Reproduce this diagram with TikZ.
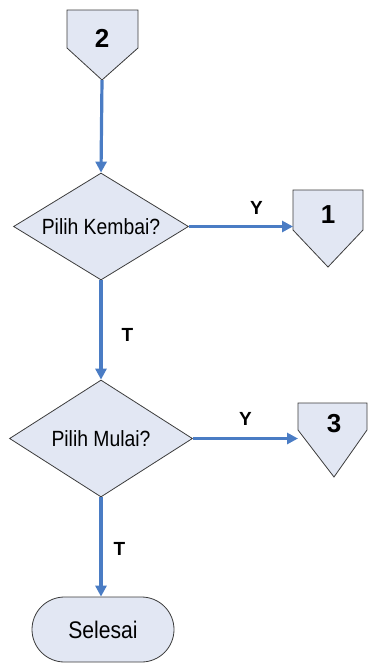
\documentclass[tikz,border=0pt]{standalone}
\usepackage{fontspec}
\setmainfont{Liberation Sans}
\newfontfamily\narrowsans[FakeStretch=0.88]{Liberation Sans}
\usetikzlibrary{positioning}
\usetikzlibrary{shapes.geometric, shapes.misc, arrows.meta}

\definecolor{boxfill}{RGB}{226,231,243}
\definecolor{boxline}{RGB}{60,60,60}
\definecolor{flowblue}{RGB}{74,124,196}

\tikzset{
	decision/.style = {diamond, aspect = 1.65, draw = boxline, fill = boxfill, line width = 0.8pt, inner sep = 0pt, font = \narrowsans\fontsize{22}{24}\selectfont},
	terminal/.style = {rounded rectangle, draw = boxline, fill = boxfill, line width = 0.8pt, inner sep = 0pt, font = \narrowsans\fontsize{24}{26}\selectfont},
	offpage/.style = {draw = boxline, fill = boxfill, line width = 0.8pt, line join = miter},
	digit/.style = {inner sep = 0pt, font = \bfseries\fontsize{26}{28}\selectfont},
	answer/.style = {inner sep = 0pt, text = black, font = \bfseries\fontsize{19}{21}\selectfont},
	flow/.style = {flowblue, line width = 3.2pt, -{Triangle[length = 11pt, width = 11pt]}}
}

\begin{document}
\begin{tikzpicture}[x = 1pt, y = -1pt]
	\useasboundingbox (0, 0) rectangle (370, 664);
	% off-page connectors
	\filldraw[offpage] (67, 10)--(138, 10)--(138, 48)--(102, 80)--(67, 48)--cycle;
	\filldraw[offpage] (293, 190)--(363, 190)--(363, 230)--(328, 267)--(293, 230)--cycle;
	\filldraw[offpage] (298, 403)--(367, 403)--(367, 430)--(334, 477)--(298, 430)--cycle;
	\node[digit] (c2) at (102, 38) {2};
	\node[digit] (c1) at (328, 215) {1};
	\node[digit] (c3) at (334, 424) {3};
	\coordinate (c2tip) at (102, 80);
	\coordinate (c1in) at (293, 228);
	\coordinate (c3in) at (298, 440);

	\node[decision, minimum width = 175pt, minimum height = 107pt] (kembali) at (101, 226.5) {Pilih Kembai?};
	\node[decision, minimum width = 183pt, minimum height = 117pt] (mulai) at (101, 438.5) {Pilih Mulai?};
	\node[terminal, minimum width = 142pt, minimum height = 65pt] (selesai) at (103, 629.5) {Selesai};

	\draw[flow] (c2tip)--(kembali.north);
	\draw[flow] (kembali.east)--(kembali.east -| c1in) node[answer, above = 10pt, pos = 0.65] (y1) {Y};
	\draw[flow] (kembali.south)--(mulai.north) node[answer, right = 19pt, pos = 0.55] (t1) {T};
	\draw[flow] (mulai.east)--(mulai.east -| c3in) node[answer, above = 11pt, pos = 0.5] (y2) {Y};
	\draw[flow] (mulai.south)--(mulai.south |- selesai.north) node[answer, right = 11pt, pos = 0.52] (t2) {T};
\end{tikzpicture}
\end{document}
